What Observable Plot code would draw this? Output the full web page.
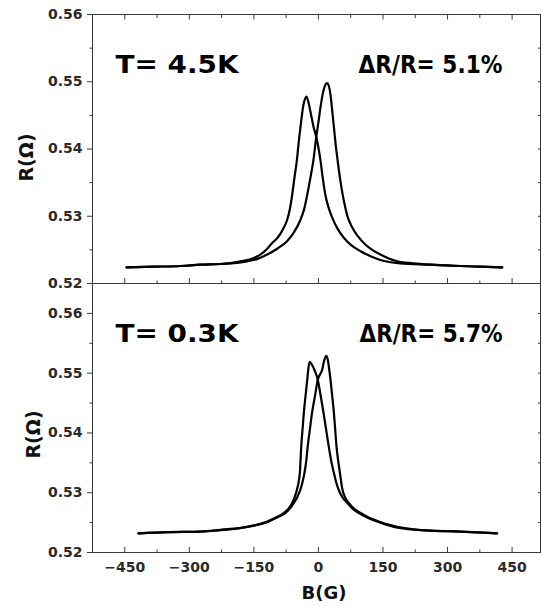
<!DOCTYPE html>
<html><head><meta charset="utf-8">
<script src="https://cdn.jsdelivr.net/npm/d3@7"></script>
<script src="https://cdn.jsdelivr.net/npm/@observablehq/plot@0.6"></script>
<style>
body{margin:0;background:#fff;}
#chart{position:relative;width:542px;height:606px;background:#fff;}
#chart svg{position:absolute;left:0;overflow:visible;background:transparent;}
</style></head><body><div id="chart"></div>
<script>
// ---- data ----
const xDomain = [-525, 516];
const xMajor = [-450, -300, -150, 0, 150, 300, 450];
const xMinor = [-375, -225, -75, 75, 225, 375];

const topYDomain = [0.52, 0.56];
const topYMajor = [0.52, 0.53, 0.54, 0.55, 0.56];
const topYMinor = [0.525, 0.535, 0.545, 0.555];
const topYRight = [0.525, 0.53, 0.535, 0.54, 0.545, 0.55, 0.555];

const botYDomain = [0.52, 0.565];
const botYMajor = [0.52, 0.53, 0.54, 0.55, 0.56];
const botYMinor = [0.525, 0.535, 0.545, 0.555];
const botYRight = [0.525, 0.53, 0.535, 0.54, 0.545, 0.55, 0.555, 0.56];

// T = 4.5 K, sweep with left peak
const topA_B = [-446, -380, -320, -274, -228, -181, -150, -135, -120, -108, -95, -83, -73, -66, -61, -56, -50, -45, -40, -35, -31, -28, -23, -19, -11, -5, 5, 10, 16, 24, 32, 44, 59, 76, 98, 120, 144, 190, 260, 330, 376, 427];
const topA_R = [0.5224, 0.5225, 0.5226, 0.5228, 0.5229, 0.5233, 0.5238, 0.5243, 0.5251, 0.5260, 0.5268, 0.5280, 0.5294, 0.5312, 0.5332, 0.5356, 0.5384, 0.5415, 0.5442, 0.5465, 0.5475, 0.5478, 0.5469, 0.5457, 0.5432, 0.5418, 0.5382, 0.5357, 0.5332, 0.5312, 0.5298, 0.5282, 0.5268, 0.5257, 0.5248, 0.5241, 0.5235, 0.5230, 0.5228, 0.5226, 0.5225, 0.5224];
// T = 4.5 K, sweep with right peak
const topB_B = [-446, -380, -320, -274, -228, -166, -140, -119, -95, -73, -57, -43, -33, -26, -19, -12, -5, 0, 5, 10, 15, 20, 24, 28, 32, 36, 40, 45, 50, 55, 60, 67, 78, 92, 109, 125, 144, 183, 220, 260, 330, 376, 427];
const topB_R = [0.5224, 0.5225, 0.5226, 0.5228, 0.5229, 0.5233, 0.5237, 0.5243, 0.5252, 0.5263, 0.5276, 0.5293, 0.5311, 0.5332, 0.5356, 0.5382, 0.5418, 0.5440, 0.5463, 0.5482, 0.5494, 0.5498, 0.5494, 0.5481, 0.5457, 0.5432, 0.5407, 0.5381, 0.5357, 0.5337, 0.5320, 0.5301, 0.5284, 0.5270, 0.5258, 0.5250, 0.5243, 0.5233, 0.5230, 0.5228, 0.5226, 0.5225, 0.5224];

// T = 0.3 K, sweep with left peak
const botA_B = [-418, -350, -274, -228, -166, -140, -119, -100, -81, -70, -61, -55, -50, -46, -43, -40, -37, -34, -30, -26, -23, -20, -15, -8, -1.5, 5, 12, 18, 24, 30, 36, 41, 47, 56, 67, 80, 94, 112, 136, 160, 187, 250, 330, 415];
const botA_R = [0.5232, 0.5234, 0.5235, 0.5238, 0.5243, 0.5247, 0.5252, 0.5258, 0.5266, 0.5273, 0.5283, 0.5293, 0.5305, 0.5318, 0.5335, 0.5377, 0.5405, 0.5433, 0.5462, 0.5489, 0.5510, 0.5519, 0.5514, 0.5503, 0.5489, 0.5463, 0.5433, 0.5405, 0.5377, 0.5352, 0.5333, 0.5318, 0.5305, 0.5292, 0.5283, 0.5273, 0.5266, 0.5259, 0.5252, 0.5246, 0.5241, 0.5237, 0.5235, 0.5232];
// T = 0.3 K, sweep with right peak
const botB_B = [-418, -350, -274, -162, -115, -95, -77, -66, -57, -49, -42, -37, -32.5, -28, -25, -20, -15, -8, -1.5, 3, 8.5, 13, 18, 21, 24, 28, 32, 36, 39, 42, 46, 50, 55, 62, 70.5, 82, 98, 118, 140, 160, 183, 250, 330, 415];
const botB_R = [0.5232, 0.5234, 0.5235, 0.5243, 0.5252, 0.5259, 0.5266, 0.5274, 0.5283, 0.5293, 0.5305, 0.5318, 0.5333, 0.5355, 0.5377, 0.5405, 0.5433, 0.5462, 0.5489, 0.5497, 0.5505, 0.5520, 0.5529, 0.5525, 0.5512, 0.5489, 0.5462, 0.5433, 0.5405, 0.5377, 0.5353, 0.5333, 0.5308, 0.5292, 0.5283, 0.5274, 0.5266, 0.5258, 0.5252, 0.5247, 0.5243, 0.5237, 0.5235, 0.5232];

const topTemp = "T= 4.5K", topRatio = "\u0394R/R= 5.1%";
const botTemp = "T= 0.3K", botRatio = "\u0394R/R= 5.7%";
const yTitle = "R(\u03A9)", xTitle = "B(G)";

// ---- build ----
const toRows = (bs, rs, sweep) => bs.map((b, i) => ({B: b, R: rs[i], sweep}));
const topData = [...toRows(topA_B, topA_R, "a"), ...toRows(topB_B, topB_R, "b")];
const botData = [...toRows(botA_B, botA_R, "a"), ...toRows(botB_B, botB_R, "b")];

const FONT = "DejaVu Sans";
const AX = "#3a3a3a";
const blank = () => "";

function panel({data, height, marginTop, marginBottom, yDomain, yMajor, yMinor, yRight, temp, ratio, ylDx, ylDy, bottom}) {
  const marks = [
    Plot.frame({stroke: AX, strokeWidth: 1}),
    Plot.axisX({anchor: "bottom", ticks: xMajor, tickSize: -5, tickFormat: blank, label: null, stroke: AX}),
    Plot.axisX({anchor: "bottom", ticks: xMinor, tickSize: -2.5, tickFormat: blank, label: null, stroke: AX}),
    Plot.axisY({anchor: "left", ticks: yMajor, tickSize: 5, tickPadding: 5, tickFormat: d3.format(".2f"), label: null,
      stroke: AX, fill: "#2a2a2a", fontSize: 14, fontWeight: "bold"}),
    Plot.axisY({anchor: "left", ticks: yMinor, tickSize: 2.5, tickFormat: blank, label: null, stroke: AX}),
    Plot.axisY({anchor: "right", ticks: yRight, tickSize: -3, tickFormat: blank, label: null, stroke: AX}),
    Plot.line(data, {x: "B", y: "R", z: "sweep", stroke: "#000", strokeWidth: 2.2, curve: "monotone-x"}),
    Plot.text([temp], {text: d => d, frameAnchor: "top-left", dx: 23, dy: 58, textAnchor: "start", lineAnchor: "bottom",
      fontSize: 25, fontWeight: "bold", fill: "#000"}),
    Plot.text([ratio], {text: d => d, frameAnchor: "top-right", dx: -38, dy: 58, textAnchor: "end", lineAnchor: "bottom",
      fontSize: 25, fontWeight: "bold", fill: "#000"}),
    Plot.text([yTitle], {text: d => d, frameAnchor: "left", dx: ylDx, dy: ylDy, rotate: -90, textAnchor: "middle", lineAnchor: "middle",
      fontSize: 19, fontWeight: "bold", fill: "#111"})
  ];
  if (bottom) {
    marks.push(Plot.axisX({anchor: "bottom", ticks: xMajor, tickSize: 0, tickPadding: 10, label: null,
      fill: "#2a2a2a", fontSize: 14, fontWeight: "bold"}));
    marks.push(Plot.text([xTitle], {text: d => d, frameAnchor: "bottom", dx: 7.5, dy: 46, lineAnchor: "bottom",
      fontSize: 18, fontWeight: "bold", fill: "#111"}));
  } else {
    marks.push(Plot.axisX({anchor: "top", ticks: xMajor, tickSize: -4.5, tickFormat: blank, label: null, stroke: AX}));
    marks.push(Plot.axisX({anchor: "top", ticks: xMinor, tickSize: -3, tickFormat: blank, label: null, stroke: AX}));
  }
  const svg = Plot.plot({
    width: 542, height, marginTop, marginBottom, marginLeft: 92, marginRight: 2,
    x: {domain: xDomain}, y: {domain: yDomain},
    style: {background: "transparent", overflow: "visible", fontFamily: FONT},
    marks
  });
  const sel = d3.select(svg);
  const lens = {"T= 4.5K": 123, "T= 0.3K": 123};
  lens[topRatio] = 144; lens[botRatio] = 143;
  sel.selectAll("text").each(function () {
    const t = this.textContent;
    if (lens[t]) d3.select(this).attr("textLength", lens[t]).attr("lengthAdjust", "spacingAndGlyphs");
  });
  return svg;
}

const chart = document.getElementById("chart");
const top1 = panel({data: topData, height: 284, marginTop: 14, marginBottom: 1, yDomain: topYDomain,
  yMajor: topYMajor, yMinor: topYMinor, yRight: topYRight, temp: topTemp, ratio: topRatio, ylDx: -66, ylDy: 8.5, bottom: false});
top1.style.top = "0px";
chart.appendChild(top1);
const bot = panel({data: botData, height: 323, marginTop: 0, marginBottom: 54, yDomain: botYDomain,
  yMajor: botYMajor, yMinor: botYMinor, yRight: botYRight, temp: botTemp, ratio: botRatio, ylDx: -59, ylDy: 16.5, bottom: true});
bot.style.top = "283px";
chart.appendChild(bot);
</script></body></html>
